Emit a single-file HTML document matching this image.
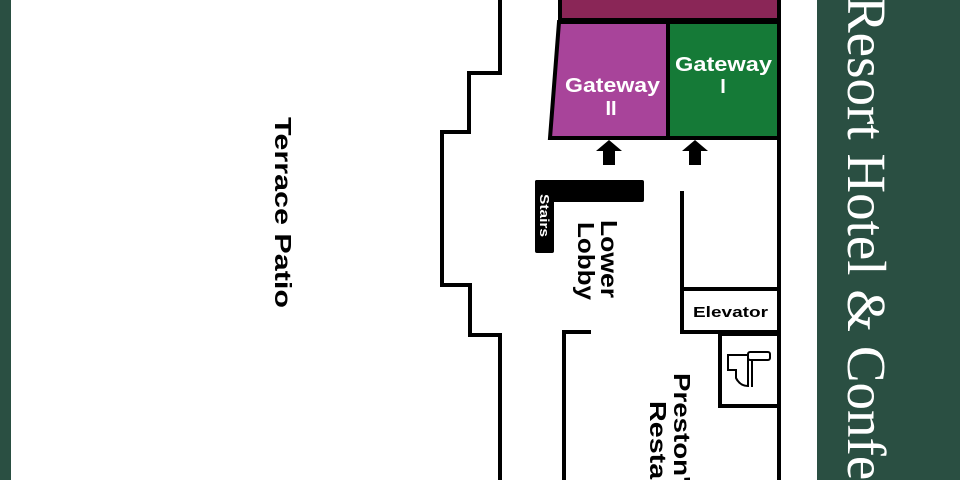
<!DOCTYPE html>
<html><head><meta charset="utf-8"><style>
html,body{margin:0;padding:0;background:#fff;width:960px;height:480px;overflow:hidden}
svg{display:block}
</style></head><body>
<svg width="960" height="480" viewBox="0 0 960 480" xmlns="http://www.w3.org/2000/svg" font-family="'Liberation Sans', sans-serif">
<rect x="0" y="0" width="11" height="480" fill="#2a4f42"/>
<rect x="817" y="0" width="143" height="480" fill="#2a4f42"/>
<text transform="translate(848,-4) rotate(90)" font-family="'Liberation Serif', serif" font-size="55" fill="#fff">Resort Hotel &amp; Confe</text>

<rect x="560" y="-4" width="219" height="24" fill="#8a2657" stroke="#000" stroke-width="4"/>
<polygon points="559,22 668,22 668,138 550,138" fill="#a8449a" stroke="#000" stroke-width="4"/>
<rect x="668" y="22" width="111" height="116" fill="#157a37" stroke="#000" stroke-width="4"/>
<text x="565" y="92" font-size="20" font-weight="bold" fill="#fff" textLength="95" lengthAdjust="spacingAndGlyphs">Gateway</text>
<text x="611" y="115" font-size="20" font-weight="bold" fill="#fff" text-anchor="middle">II</text>
<text x="675" y="71" font-size="20" font-weight="bold" fill="#fff" textLength="97" lengthAdjust="spacingAndGlyphs">Gateway</text>
<text x="723" y="93" font-size="20" font-weight="bold" fill="#fff" text-anchor="middle">I</text>

<polygon points="609,140 622,151 615,151 615,165 603,165 603,151 596,151" fill="#000"/>
<polygon points="695,140 708,151 701,151 701,165 689,165 689,151 682,151" fill="#000"/>

<g fill="none" stroke="#000" stroke-width="4" stroke-linecap="square">
<polyline points="500,0 500,73 469,73 469,132 442,132 442,285 470,285 470,335 500,335 500,480"/>
<line x1="779" y1="0" x2="779" y2="480"/>
<polyline points="682,193 682,289"/>
<rect x="682" y="289" width="97" height="43"/>
<polyline points="779,334 720,334 720,406 779,406"/>
<polyline points="589,332 564,332 564,480"/>
</g>

<rect x="535" y="180" width="109" height="22" rx="2" fill="#000"/>
<rect x="535" y="180" width="19" height="73" rx="2" fill="#000"/>
<text transform="translate(540,194) rotate(90)" font-size="13" font-weight="bold" fill="#fff" textLength="43" lengthAdjust="spacingAndGlyphs">Stairs</text>

<text transform="translate(601,220) rotate(90)" font-size="23" font-weight="bold" fill="#000" textLength="78" lengthAdjust="spacingAndGlyphs">Lower</text>
<text transform="translate(578,222) rotate(90)" font-size="23" font-weight="bold" fill="#000" textLength="78" lengthAdjust="spacingAndGlyphs">Lobby</text>
<text transform="translate(275,117) rotate(90)" font-size="23" font-weight="bold" fill="#000" textLength="191" lengthAdjust="spacingAndGlyphs">Terrace Patio</text>
<text transform="translate(674,373) rotate(90)" font-size="23" font-weight="bold" fill="#000" textLength="125" lengthAdjust="spacingAndGlyphs">Preston's</text>
<text transform="translate(650,401) rotate(90)" font-size="23" font-weight="bold" fill="#000" textLength="150" lengthAdjust="spacingAndGlyphs">Restaurant</text>

<text x="693" y="317" font-size="15" font-weight="bold" fill="#000" textLength="75" lengthAdjust="spacingAndGlyphs">Elevator</text>

<g fill="none" stroke="#000" stroke-width="2">
<path d="M728,355 L748,355 L748,386 Q740,386 736,378 L736,370 L728,370 Z"/>
<rect x="748" y="352" width="22" height="8" rx="2"/>
<line x1="752" y1="360" x2="752" y2="387"/>
</g>
</svg>
</body></html>
